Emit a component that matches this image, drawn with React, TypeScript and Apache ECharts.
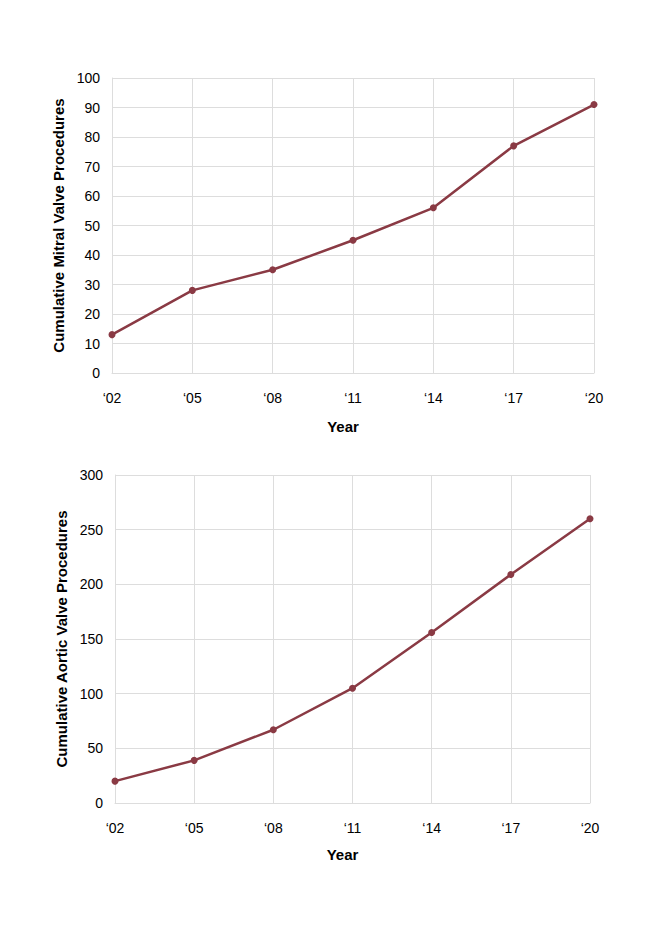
import React, { useEffect, useRef } from "react";
import * as echarts from "echarts";

const years = ["‘02", "‘05", "‘08", "‘11", "‘14", "‘17", "‘20"];
const mitralValues = [13, 28, 35, 45, 56, 77, 91];
const aorticValues = [20, 39, 67, 105, 156, 209, 260];
const mitralName = "Cumulative Mitral Valve Procedures";
const aorticName = "Cumulative Aortic Valve Procedures";
const xName = "Year";

const COLOR = "#8a3a44";
const GRID = "#dddddd";
const FONT = "Liberation Sans, Arial, sans-serif";

export default function App() {
  const ref = useRef<HTMLDivElement>(null);
  useEffect(() => {
    document.body.style.margin = "0";
    const chart = echarts.init(ref.current!, null, { renderer: "svg" });
    const xAxisBase = (gridIndex: number, gap: number) => ({
      type: "category",
      gridIndex,
      data: years,
      boundaryGap: false,
      name: xName,
      nameLocation: "middle",
      nameGap: gap,
      nameTextStyle: { fontFamily: FONT, fontSize: 15, fontWeight: "bold", color: "#000", padding: [0, 20, 0, 0] },
      axisLine: { show: true, lineStyle: { color: GRID, width: 1 } },
      axisTick: { show: false },
      axisLabel: { fontFamily: FONT, fontSize: 14, color: "#000", margin: 18 },
      splitLine: { show: true, lineStyle: { color: GRID, width: 1 } },
    });
    const yAxisBase = (gridIndex: number, name: string, max: number, interval: number, gap: number) => ({
      type: "value",
      gridIndex,
      min: 0,
      max,
      interval,
      name,
      nameLocation: "middle",
      nameGap: gap,
      nameTextStyle: { fontFamily: FONT, fontSize: 15, fontWeight: "bold", color: "#000" },
      axisLine: { show: true, lineStyle: { color: GRID, width: 1 } },
      axisTick: { show: false },
      axisLabel: { fontFamily: FONT, fontSize: 14, color: "#000", margin: 12 },
      splitLine: { show: true, lineStyle: { color: GRID, width: 1 } },
    });
    const seriesBase = (idx: number, data: number[]) => ({
      type: "line",
      xAxisIndex: idx,
      yAxisIndex: idx,
      data,
      symbol: "circle",
      symbolSize: 7,
      lineStyle: { color: COLOR, width: 2.5 },
      itemStyle: { color: COLOR },
    });
    chart.setOption({
      animation: false,
      backgroundColor: "#ffffff",
      grid: [
        { left: 112, right: 76, top: 78, height: 295 },
        { left: 115, right: 80, top: 475, height: 328 },
      ],
      xAxis: [xAxisBase(0, 46), xAxisBase(1, 44)],
      yAxis: [
        yAxisBase(0, mitralName, 100, 10, 43),
        yAxisBase(1, aorticName, 300, 50, 44),
      ],
      series: [seriesBase(0, mitralValues), seriesBase(1, aorticValues)],
    });
    return () => chart.dispose();
  }, []);
  return <div ref={ref} style={{ width: 670, height: 932 }} />;
}
